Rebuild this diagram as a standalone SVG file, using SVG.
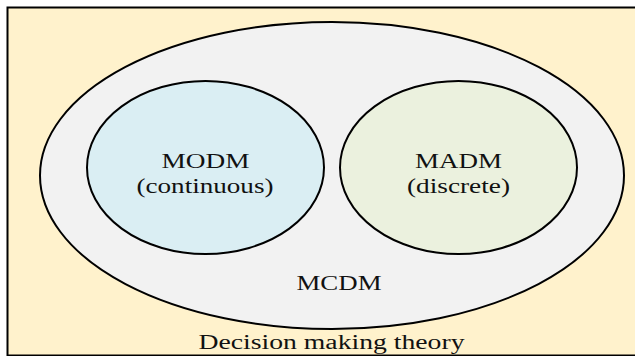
<svg xmlns="http://www.w3.org/2000/svg" width="635" height="356" viewBox="0 0 635 356">
<style>
.e{stroke:#000;stroke-width:2}
.t{font-family:"Liberation Serif","Times New Roman",serif;font-size:20px;fill:#111;text-anchor:middle}
</style>
<g id="theory">
<rect x="7.5" y="7.5" width="640" height="348" fill="#FFF2CC" stroke="#000" stroke-width="2"/>
<text class="t" x="331.5" y="349" textLength="266" lengthAdjust="spacingAndGlyphs">Decision making theory</text>
</g>
<g id="mcdm">
<ellipse class="e" cx="332" cy="175.5" rx="292" ry="153.5" fill="#F2F2F2"/>
<text class="t" x="339" y="290" textLength="85" lengthAdjust="spacingAndGlyphs">MCDM</text>
</g>
<g id="modm">
<ellipse class="e" cx="205.5" cy="167.5" rx="118.5" ry="86.5" fill="#DAEEF3"/>
<text class="t" x="205.5" y="168" textLength="88" lengthAdjust="spacingAndGlyphs">MODM</text>
<text class="t" x="205" y="193" textLength="137" lengthAdjust="spacingAndGlyphs">(continuous)</text>
</g>
<g id="madm">
<ellipse class="e" cx="458.5" cy="167.5" rx="118.5" ry="86.5" fill="#EBF1DE"/>
<text class="t" x="458.5" y="168" textLength="87" lengthAdjust="spacingAndGlyphs">MADM</text>
<text class="t" x="458.5" y="193" textLength="103" lengthAdjust="spacingAndGlyphs">(discrete)</text>
</g>
<g id="connectors"/>
</svg>
